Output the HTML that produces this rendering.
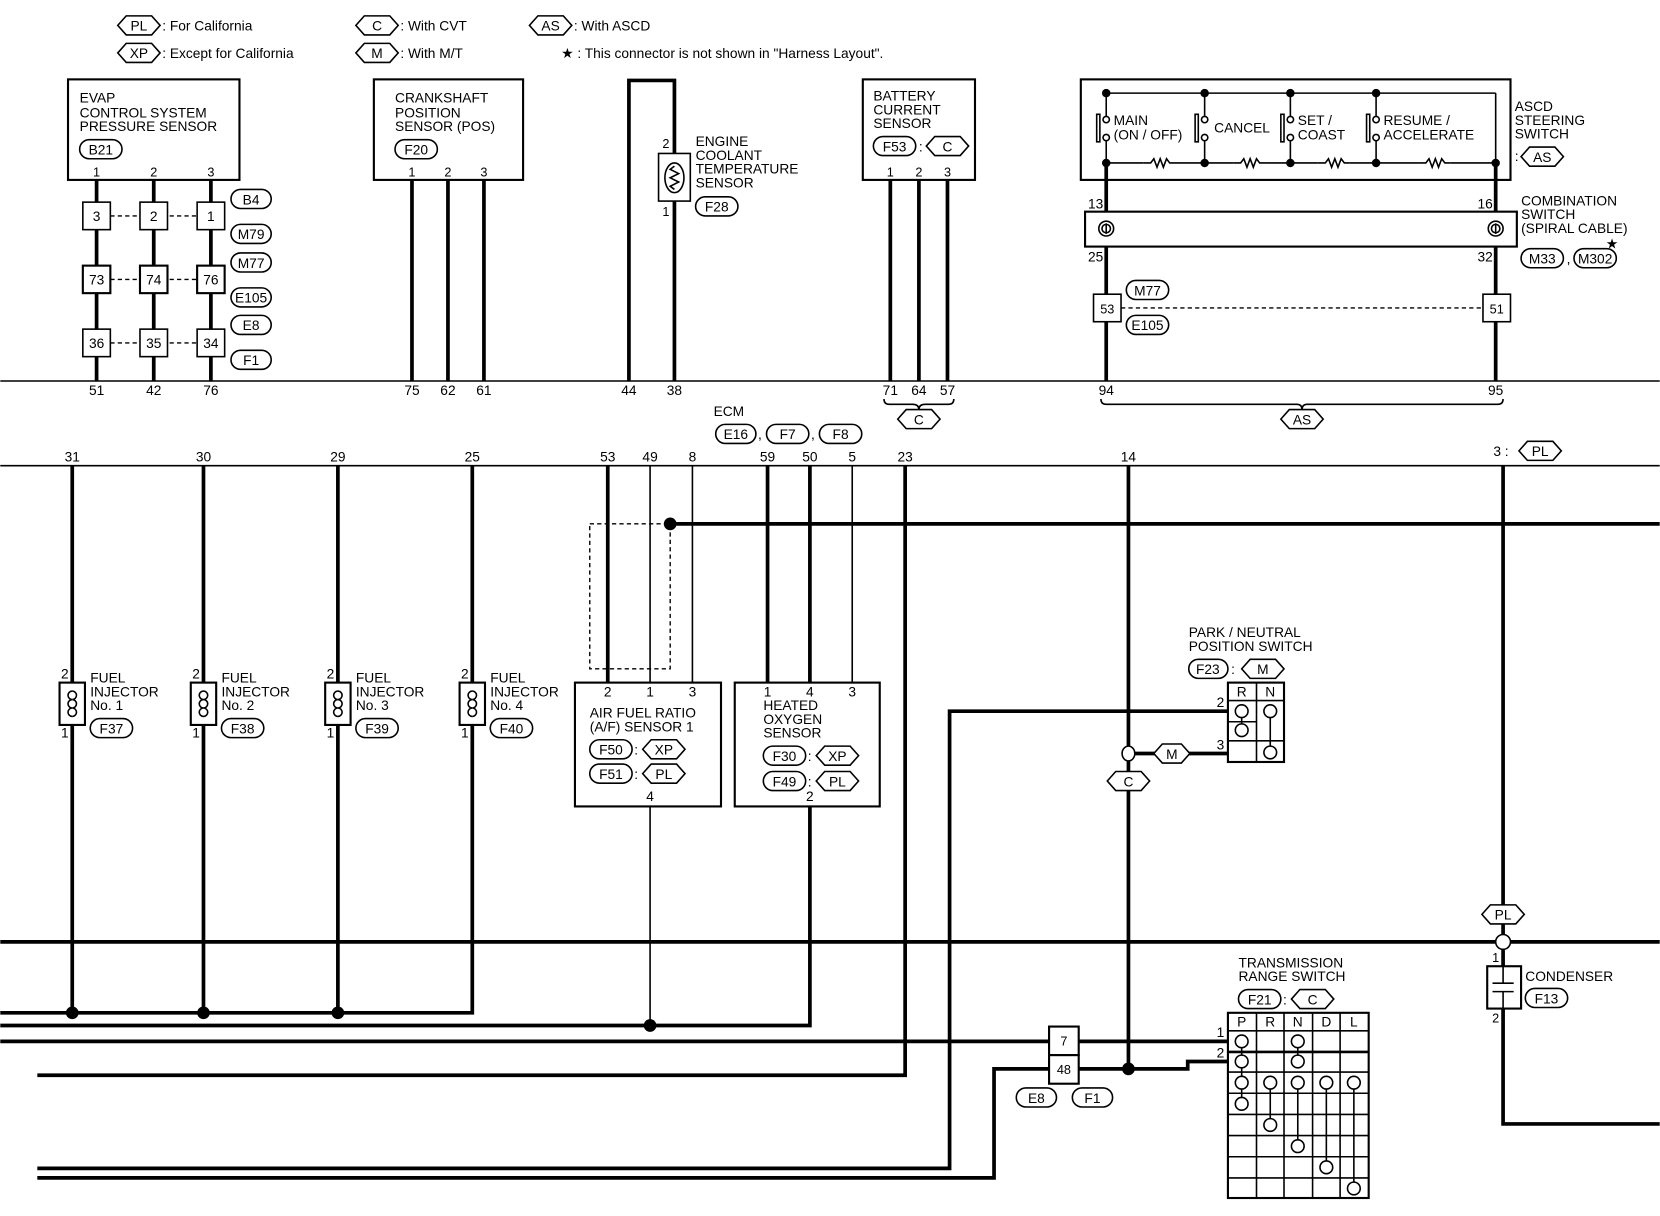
<!DOCTYPE html>
<html><head><meta charset="utf-8"><style>
html,body{margin:0;padding:0;background:#fff}
svg{display:block}
text{font-family:"Liberation Sans",sans-serif;font-size:13px;fill:#000}
.t{stroke:#000;stroke-width:3.5;fill:none}
.n{stroke:#000;stroke-width:1.5;fill:none}
.b{stroke:#000;stroke-width:2;fill:#fff}
.d{stroke:#000;stroke-width:1.3;fill:none;stroke-dasharray:4 3}
.s{font-size:12px}
</style></head><body>
<svg width="1660" height="1216" viewBox="0 0 1568 1149" xmlns="http://www.w3.org/2000/svg">
<defs>
<g id="hx"><polygon points="-20,0 -12,-9 12,-9 20,0 12,9 -12,9" style="fill:#fff" stroke="#000" stroke-width="1.5"/></g>
</defs>

<!-- Legend -->
<use href="#hx" x="131" y="24"/><text x="131" y="29" text-anchor="middle">PL</text><text x="153" y="29">: For California</text>
<use href="#hx" x="131" y="50"/><text x="131" y="55" text-anchor="middle">XP</text><text x="153" y="55">: Except for California</text>
<use href="#hx" x="356" y="24"/><text x="356" y="29" text-anchor="middle">C</text><text x="378" y="29">: With CVT</text>
<use href="#hx" x="356" y="50"/><text x="356" y="55" text-anchor="middle">M</text><text x="378" y="55">: With M/T</text>
<use href="#hx" x="520" y="24"/><text x="520" y="29" text-anchor="middle">AS</text><text x="542" y="29">: With ASCD</text>
<text x="530" y="55">★ : This connector is not shown in "Harness Layout".</text>

<line class="n" x1="0" y1="360" x2="1568" y2="360"/>
<line class="n" x1="0" y1="440" x2="1568" y2="440"/>

<!-- EVAP -->
<rect class="b" x="64" y="75" width="162" height="95"/>
<text x="75" y="97">EVAP</text><text x="75" y="111">CONTROL SYSTEM</text><text x="75" y="124">PRESSURE SENSOR</text>
<rect class="n" x="75" y="132" width="40" height="18" rx="9" style="fill:#fff"/><text x="95" y="146" text-anchor="middle">B21</text>
<text x="91" y="167" text-anchor="middle" class="s">1</text><text x="145" y="167" text-anchor="middle" class="s">2</text><text x="199" y="167" text-anchor="middle" class="s">3</text>
<line class="t" x1="91" y1="170" x2="91" y2="360"/><line class="t" x1="145" y1="170" x2="145" y2="360"/><line class="t" x1="199" y1="170" x2="199" y2="360"/>
<line class="d" x1="104" y1="204" x2="186" y2="204"/><line class="d" x1="104" y1="264" x2="186" y2="264"/><line class="d" x1="104" y1="324" x2="186" y2="324"/>
<g class="s">
<rect class="n" x="78" y="191" width="26" height="26" style="fill:#fff"/><text x="91" y="209" text-anchor="middle">3</text>
<rect class="n" x="132" y="191" width="26" height="26" style="fill:#fff"/><text x="145" y="209" text-anchor="middle">2</text>
<rect class="n" x="186" y="191" width="26" height="26" style="fill:#fff"/><text x="199" y="209" text-anchor="middle">1</text>
<rect class="b" x="78" y="251" width="26" height="26"/><text x="91" y="269" text-anchor="middle">73</text>
<rect class="b" x="132" y="251" width="26" height="26"/><text x="145" y="269" text-anchor="middle">74</text>
<rect class="b" x="186" y="251" width="26" height="26"/><text x="199" y="269" text-anchor="middle">76</text>
<rect class="n" x="78" y="311" width="26" height="26" style="fill:#fff"/><text x="91" y="329" text-anchor="middle">36</text>
<rect class="n" x="132" y="311" width="26" height="26" style="fill:#fff"/><text x="145" y="329" text-anchor="middle">35</text>
<rect class="n" x="186" y="311" width="26" height="26" style="fill:#fff"/><text x="199" y="329" text-anchor="middle">34</text>
</g>
<g>
<rect class="n" x="218" y="179" width="38" height="18" rx="9" style="fill:#fff"/><text x="237" y="193" text-anchor="middle">B4</text>
<rect class="n" x="218" y="212" width="38" height="18" rx="9" style="fill:#fff"/><text x="237" y="226" text-anchor="middle">M79</text>
<rect class="n" x="218" y="239" width="38" height="18" rx="9" style="fill:#fff"/><text x="237" y="253" text-anchor="middle">M77</text>
<rect class="n" x="218" y="272" width="38" height="18" rx="9" style="fill:#fff"/><text x="237" y="286" text-anchor="middle">E105</text>
<rect class="n" x="218" y="298" width="38" height="18" rx="9" style="fill:#fff"/><text x="237" y="312" text-anchor="middle">E8</text>
<rect class="n" x="218" y="331" width="38" height="18" rx="9" style="fill:#fff"/><text x="237" y="345" text-anchor="middle">F1</text>
</g>
<g class="s" text-anchor="middle">
<text x="91" y="373">51</text><text x="145" y="373">42</text><text x="199" y="373">76</text>
<text x="389" y="373">75</text><text x="423" y="373">62</text><text x="457" y="373">61</text>
<text x="594" y="373">44</text><text x="637" y="373">38</text>
<text x="841" y="373">71</text><text x="868" y="373">64</text><text x="895" y="373">57</text>
<text x="1045" y="373">94</text><text x="1413" y="373">95</text>
</g>

<!-- Crankshaft -->
<rect class="b" x="353" y="75" width="141" height="95"/>
<text x="373" y="97">CRANKSHAFT</text><text x="373" y="111">POSITION</text><text x="373" y="124">SENSOR (POS)</text>
<rect class="n" x="373" y="132" width="40" height="18" rx="9" style="fill:#fff"/><text x="393" y="146" text-anchor="middle">F20</text>
<text x="389" y="167" text-anchor="middle" class="s">1</text><text x="423" y="167" text-anchor="middle" class="s">2</text><text x="457" y="167" text-anchor="middle" class="s">3</text>
<line class="t" x1="389" y1="170" x2="389" y2="360"/><line class="t" x1="423" y1="170" x2="423" y2="360"/><line class="t" x1="457" y1="170" x2="457" y2="360"/>

<!-- Coolant -->
<polyline class="t" points="594,360 594,76 637,76 637,145"/>
<line class="t" x1="637" y1="190" x2="637" y2="360"/>
<rect class="n" x="622" y="145" width="30" height="45" style="fill:#fff"/>
<ellipse class="n" cx="637" cy="168" rx="9" ry="14"/>
<polyline class="n" points="637,157 633,160 641,164 633,168 641,172 633,176 637,179"/>
<text x="629" y="140" class="s" text-anchor="middle">2</text><text x="629" y="204" class="s" text-anchor="middle">1</text>
<text x="657" y="138">ENGINE</text><text x="657" y="151">COOLANT</text><text x="657" y="164">TEMPERATURE</text><text x="657" y="177">SENSOR</text>
<rect class="n" x="657" y="186" width="40" height="18" rx="9" style="fill:#fff"/><text x="677" y="200" text-anchor="middle">F28</text>

<!-- Battery -->
<rect class="b" x="815" y="75" width="106" height="95"/>
<text x="825" y="95">BATTERY</text><text x="825" y="108">CURRENT</text><text x="825" y="121">SENSOR</text>
<rect class="n" x="825" y="129" width="40" height="18" rx="9" style="fill:#fff"/><text x="845" y="143" text-anchor="middle">F53</text>
<text x="868" y="143">:</text><use href="#hx" x="895" y="138"/><text x="895" y="143" text-anchor="middle">C</text>
<text x="841" y="167" text-anchor="middle" class="s">1</text><text x="868" y="167" text-anchor="middle" class="s">2</text><text x="895" y="167" text-anchor="middle" class="s">3</text>
<line class="t" x1="841" y1="170" x2="841" y2="360"/><line class="t" x1="868" y1="170" x2="868" y2="360"/><line class="t" x1="895" y1="170" x2="895" y2="360"/>
<path class="n" d="M835,377 Q835,382 840,382 L862,382 Q868,382 868,387 Q868,382 874,382 L896,382 Q901,382 901,377"/>
<use href="#hx" x="868" y="396"/><text x="868" y="401" text-anchor="middle">C</text>

<!-- ASCD -->
<rect class="b" x="1021" y="75" width="406" height="95"/>
<line class="n" x1="1045" y1="88" x2="1413" y2="88"/>
<line class="n" x1="1413" y1="88" x2="1413" y2="154"/>
<line class="n" x1="1045" y1="154" x2="1413" y2="154"/>
<g fill="#000"><circle cx="1045" cy="154" r="4"/><circle cx="1138" cy="154" r="4"/><circle cx="1219" cy="154" r="4"/><circle cx="1300" cy="154" r="4"/><circle cx="1413" cy="154" r="4"/>
<circle cx="1045" cy="88" r="4"/><circle cx="1138" cy="88" r="4"/><circle cx="1219" cy="88" r="4"/><circle cx="1300" cy="88" r="4"/></g>
<g style="fill:#fff">
<rect x="1080" y="150" width="30" height="8"/><rect x="1165" y="150" width="30" height="8"/><rect x="1245" y="150" width="30" height="8"/><rect x="1340" y="150" width="30" height="8"/>
</g>
<polyline class="n" points="1080,154 1087,154 1090,150 1093,158 1096,150 1099,158 1102,150 1105,154 1110,154"/>
<polyline class="n" points="1165,154 1172,154 1175,150 1178,158 1181,150 1184,158 1187,150 1190,154 1195,154"/>
<polyline class="n" points="1245,154 1252,154 1255,150 1258,158 1261,150 1264,158 1267,150 1270,154 1275,154"/>
<polyline class="n" points="1340,154 1347,154 1350,150 1353,158 1356,150 1359,158 1362,150 1365,154 1370,154"/>
<g class="n">
<line x1="1045" y1="88" x2="1045" y2="110"/><circle cx="1045" cy="113" r="3" style="fill:#fff"/><circle cx="1045" cy="130" r="3" style="fill:#fff"/><line x1="1045" y1="133" x2="1045" y2="154"/><rect x="1036" y="108" width="3" height="26"/>
<line x1="1138" y1="88" x2="1138" y2="110"/><circle cx="1138" cy="113" r="3" style="fill:#fff"/><circle cx="1138" cy="130" r="3" style="fill:#fff"/><line x1="1138" y1="133" x2="1138" y2="154"/><rect x="1129" y="108" width="3" height="26"/>
<line x1="1219" y1="88" x2="1219" y2="110"/><circle cx="1219" cy="113" r="3" style="fill:#fff"/><circle cx="1219" cy="130" r="3" style="fill:#fff"/><line x1="1219" y1="133" x2="1219" y2="154"/><rect x="1210" y="108" width="3" height="26"/>
<line x1="1300" y1="88" x2="1300" y2="110"/><circle cx="1300" cy="113" r="3" style="fill:#fff"/><circle cx="1300" cy="130" r="3" style="fill:#fff"/><line x1="1300" y1="133" x2="1300" y2="154"/><rect x="1291" y="108" width="3" height="26"/>
</g>
<text x="1052" y="118">MAIN</text><text x="1052" y="132">(ON / OFF)</text>
<text x="1147" y="125">CANCEL</text>
<text x="1226" y="118">SET /</text><text x="1226" y="132">COAST</text>
<text x="1307" y="118">RESUME /</text><text x="1307" y="132">ACCELERATE</text>
<text x="1431" y="105">ASCD</text><text x="1431" y="118">STEERING</text><text x="1431" y="131">SWITCH</text>
<text x="1431" y="152">:</text><use href="#hx" x="1457" y="148"/><text x="1457" y="153" text-anchor="middle">AS</text>
<line class="t" x1="1045" y1="154" x2="1045" y2="360"/><line class="t" x1="1413" y1="154" x2="1413" y2="360"/>
<rect class="b" x="1025" y="200" width="408" height="33"/>
<circle class="n" cx="1045" cy="216" r="7" style="fill:#fff"/><circle class="n" cx="1045" cy="216" r="4"/><line class="n" x1="1045" y1="211" x2="1045" y2="221"/>
<circle class="n" cx="1413" cy="216" r="7" style="fill:#fff"/><circle class="n" cx="1413" cy="216" r="4"/><line class="n" x1="1413" y1="211" x2="1413" y2="221"/>
<g class="s" text-anchor="middle"><text x="1035" y="197">13</text><text x="1035" y="247">25</text><text x="1403" y="197">16</text><text x="1403" y="247">32</text></g>
<text x="1437" y="194">COMBINATION</text><text x="1437" y="207">SWITCH</text><text x="1437" y="220">(SPIRAL CABLE)</text>
<text x="1517" y="235">★</text>
<rect class="n" x="1437" y="235" width="40" height="18" rx="9" style="fill:#fff"/><text x="1457" y="249" text-anchor="middle">M33</text>
<text x="1480" y="249">,</text>
<rect class="n" x="1487" y="235" width="40" height="18" rx="9" style="fill:#fff"/><text x="1507" y="249" text-anchor="middle">M302</text>
<line class="d" x1="1059" y1="291" x2="1401" y2="291"/>
<rect class="n" x="1033" y="278" width="26" height="26" style="fill:#fff"/><text x="1046" y="296" text-anchor="middle" class="s">53</text>
<rect class="n" x="1401" y="278" width="26" height="26" style="fill:#fff"/><text x="1414" y="296" text-anchor="middle" class="s">51</text>
<rect class="n" x="1064" y="265" width="40" height="18" rx="9" style="fill:#fff"/><text x="1084" y="279" text-anchor="middle">M77</text>
<rect class="n" x="1064" y="298" width="40" height="18" rx="9" style="fill:#fff"/><text x="1084" y="312" text-anchor="middle">E105</text>
<path class="n" d="M1040,377 Q1040,382 1045,382 L1225,382 Q1230,382 1230,387 Q1230,382 1235,382 L1415,382 Q1420,382 1420,377"/>
<use href="#hx" x="1230" y="396"/><text x="1230" y="401" text-anchor="middle">AS</text>

<!-- ECM -->
<text x="674" y="393">ECM</text>
<rect class="n" x="676" y="401" width="38" height="18" rx="9" style="fill:#fff"/><text x="695" y="415" text-anchor="middle">E16</text>
<text x="716" y="415">,</text>
<rect class="n" x="724" y="401" width="40" height="18" rx="9" style="fill:#fff"/><text x="744" y="415" text-anchor="middle">F7</text>
<text x="766" y="415">,</text>
<rect class="n" x="774" y="401" width="40" height="18" rx="9" style="fill:#fff"/><text x="794" y="415" text-anchor="middle">F8</text>
<g class="s" text-anchor="middle">
<text x="68" y="436">31</text><text x="192" y="436">30</text><text x="319" y="436">29</text><text x="446" y="436">25</text>
<text x="574" y="436">53</text><text x="614" y="436">49</text><text x="654" y="436">8</text>
<text x="725" y="436">59</text><text x="765" y="436">50</text><text x="805" y="436">5</text><text x="855" y="436">23</text>
<text x="1066" y="436">14</text><text x="1418" y="431">3 :</text>
</g>
<use href="#hx" x="1455" y="426"/><text x="1455" y="431" text-anchor="middle">PL</text>

<!-- Bus lines -->
<line class="t" x1="633" y1="495" x2="1568" y2="495"/>
<circle cx="633" cy="495" r="6" fill="#000"/>
<line class="t" x1="0" y1="890" x2="1568" y2="890"/>
<polyline class="t" points="0,957 446,957 446,440"/>
<polyline class="t" points="0,969 765,969 765,762"/>
<line class="t" x1="0" y1="984" x2="1160" y2="984"/>
<polyline class="t" points="35,1016 855,1016 855,440"/>
<polyline class="t" points="35,1104 897,1104 897,672 1160,672"/>
<polyline class="t" points="35,1113 939,1113 939,1010 991,1010"/>
<polyline class="t" points="1019,1010 1122,1010 1122,1003 1160,1003"/>

<!-- Injectors -->
<line class="t" x1="68" y1="440" x2="68" y2="957"/>
<line class="t" x1="192" y1="440" x2="192" y2="957"/>
<line class="t" x1="319" y1="440" x2="319" y2="957"/>
<g fill="#000"><circle cx="68" cy="957" r="6"/><circle cx="192" cy="957" r="6"/><circle cx="319" cy="957" r="6"/><circle cx="614" cy="969" r="6"/><circle cx="1066" cy="1010" r="6"/></g>
<g id="inj">
<rect class="b" x="56" y="645" width="24" height="40"/>
<path class="n" d="M68,653 a4,4 0 1 0 0,8 a4,4 0 1 0 0,8 a4,4 0 1 0 0,8"/>
<path class="n" d="M68,653 a4,4 0 1 1 0,8 a4,4 0 1 1 0,8 a4,4 0 1 1 0,8"/>
</g>
<use href="#inj" x="124"/><use href="#inj" x="251"/><use href="#inj" x="378"/>
<g class="s" text-anchor="middle">
<text x="61" y="641">2</text><text x="61" y="697">1</text><text x="185" y="641">2</text><text x="185" y="697">1</text>
<text x="312" y="641">2</text><text x="312" y="697">1</text><text x="439" y="641">2</text><text x="439" y="697">1</text>
</g>
<text x="85" y="645">FUEL</text><text x="85" y="658">INJECTOR</text><text x="85" y="671">No. 1</text>
<rect class="n" x="85" y="679" width="40" height="18" rx="9" style="fill:#fff"/><text x="105" y="693" text-anchor="middle">F37</text>
<text x="209" y="645">FUEL</text><text x="209" y="658">INJECTOR</text><text x="209" y="671">No. 2</text>
<rect class="n" x="209" y="679" width="40" height="18" rx="9" style="fill:#fff"/><text x="229" y="693" text-anchor="middle">F38</text>
<text x="336" y="645">FUEL</text><text x="336" y="658">INJECTOR</text><text x="336" y="671">No. 3</text>
<rect class="n" x="336" y="679" width="40" height="18" rx="9" style="fill:#fff"/><text x="356" y="693" text-anchor="middle">F39</text>
<text x="463" y="645">FUEL</text><text x="463" y="658">INJECTOR</text><text x="463" y="671">No. 4</text>
<rect class="n" x="463" y="679" width="40" height="18" rx="9" style="fill:#fff"/><text x="483" y="693" text-anchor="middle">F40</text>

<!-- A/F sensor -->
<rect class="d" x="557" y="495" width="76" height="137"/>
<line class="t" x1="574" y1="440" x2="574" y2="645"/>
<line class="n" x1="614" y1="440" x2="614" y2="645"/>
<line class="n" x1="654" y1="440" x2="654" y2="645"/>
<line class="n" x1="614" y1="762" x2="614" y2="969"/>
<rect class="b" x="543" y="645" width="138" height="117"/>
<g class="s" text-anchor="middle"><text x="574" y="658">2</text><text x="614" y="658">1</text><text x="654" y="658">3</text><text x="614" y="757">4</text></g>
<text x="557" y="678">AIR FUEL RATIO</text><text x="557" y="691">(A/F) SENSOR 1</text>
<rect class="n" x="557" y="699" width="40" height="18" rx="9" style="fill:#fff"/><text x="577" y="713" text-anchor="middle">F50</text>
<text x="599" y="713">:</text><use href="#hx" x="627" y="708"/><text x="627" y="713" text-anchor="middle">XP</text>
<rect class="n" x="557" y="722" width="40" height="18" rx="9" style="fill:#fff"/><text x="577" y="736" text-anchor="middle">F51</text>
<text x="599" y="736">:</text><use href="#hx" x="627" y="731"/><text x="627" y="736" text-anchor="middle">PL</text>

<!-- HO2S -->
<line class="t" x1="725" y1="440" x2="725" y2="645"/>
<line class="t" x1="765" y1="440" x2="765" y2="645"/>
<line class="n" x1="805" y1="440" x2="805" y2="645"/>
<rect class="b" x="694" y="645" width="137" height="117"/>
<g class="s" text-anchor="middle"><text x="725" y="658">1</text><text x="765" y="658">4</text><text x="805" y="658">3</text><text x="765" y="757">2</text></g>
<text x="721" y="671">HEATED</text><text x="721" y="684">OXYGEN</text><text x="721" y="697">SENSOR</text>
<rect class="n" x="721" y="705" width="40" height="18" rx="9" style="fill:#fff"/><text x="741" y="719" text-anchor="middle">F30</text>
<text x="763" y="719">:</text><use href="#hx" x="791" y="714"/><text x="791" y="719" text-anchor="middle">XP</text>
<rect class="n" x="721" y="729" width="40" height="18" rx="9" style="fill:#fff"/><text x="741" y="743" text-anchor="middle">F49</text>
<text x="763" y="743">:</text><use href="#hx" x="791" y="738"/><text x="791" y="743" text-anchor="middle">PL</text>

<!-- 14 wire & park switch -->
<line class="t" x1="1066" y1="440" x2="1066" y2="1010"/>
<line class="t" x1="1066" y1="712" x2="1160" y2="712"/>
<ellipse cx="1066" cy="712" rx="6" ry="7" style="fill:#fff" stroke="#000" stroke-width="1.5"/>
<polygon points="1090,712 1098,703 1116,703 1124,712 1116,721 1098,721" style="fill:#fff" stroke="#000" stroke-width="1.5"/><text x="1107" y="717" text-anchor="middle">M</text>
<use href="#hx" x="1066" y="738"/><text x="1066" y="743" text-anchor="middle">C</text>
<text x="1123" y="602">PARK / NEUTRAL</text><text x="1123" y="615">POSITION SWITCH</text>
<rect class="n" x="1123" y="623" width="37" height="18" rx="9" style="fill:#fff"/><text x="1141" y="637" text-anchor="middle">F23</text>
<text x="1163" y="637">:</text><use href="#hx" x="1193" y="632"/><text x="1193" y="637" text-anchor="middle">M</text>
<g class="n">
<rect x="1160" y="645" width="53" height="75" style="fill:#fff" stroke-width="2"/>
<line x1="1187" y1="645" x2="1187" y2="720"/>
<line x1="1160" y1="662" x2="1213" y2="662"/><line x1="1160" y1="682" x2="1187" y2="682"/><line x1="1160" y1="700" x2="1213" y2="700"/>
<line x1="1173" y1="672" x2="1173" y2="690"/><line x1="1200" y1="672" x2="1200" y2="711"/>
<circle cx="1173" cy="672" r="6" style="fill:#fff"/><circle cx="1173" cy="690" r="6" style="fill:#fff"/><circle cx="1200" cy="672" r="6" style="fill:#fff"/><circle cx="1200" cy="711" r="6" style="fill:#fff"/>
</g>
<g class="s" text-anchor="middle"><text x="1173" y="658">R</text><text x="1200" y="658">N</text><text x="1153" y="668">2</text><text x="1153" y="708">3</text></g>

<!-- connector 7/48 -->
<rect class="b" x="991" y="970" width="28" height="27"/><text x="1005" y="988" text-anchor="middle" class="s">7</text>
<rect class="b" x="991" y="997" width="28" height="27"/><text x="1005" y="1015" text-anchor="middle" class="s">48</text>
<rect class="n" x="960" y="1028" width="38" height="18" rx="9" style="fill:#fff"/><text x="979" y="1042" text-anchor="middle">E8</text>
<rect class="n" x="1013" y="1028" width="38" height="18" rx="9" style="fill:#fff"/><text x="1032" y="1042" text-anchor="middle">F1</text>

<!-- PL / condenser -->
<line class="t" x1="1420" y1="440" x2="1420" y2="913"/>
<polyline class="t" points="1420,953 1420,1062 1568,1062"/>
<use href="#hx" x="1420" y="864"/><text x="1420" y="869" text-anchor="middle">PL</text>
<circle cx="1420" cy="890" r="7" style="fill:#fff" stroke="#000" stroke-width="1.5"/>
<rect class="b" x="1405" y="913" width="32" height="40"/>
<line class="n" x1="1420" y1="913" x2="1420" y2="929"/><line class="n" x1="1410" y1="929" x2="1430" y2="929"/>
<line class="n" x1="1410" y1="937" x2="1430" y2="937"/><line class="n" x1="1420" y1="937" x2="1420" y2="953"/>
<text x="1413" y="909" class="s" text-anchor="middle">1</text><text x="1413" y="966" class="s" text-anchor="middle">2</text>
<text x="1441" y="927">CONDENSER</text>
<rect class="n" x="1441" y="934" width="40" height="18" rx="9" style="fill:#fff"/><text x="1461" y="948" text-anchor="middle">F13</text>

<!-- Transmission range switch -->
<text x="1170" y="914">TRANSMISSION</text><text x="1170" y="927">RANGE SWITCH</text>
<rect class="n" x="1170" y="935" width="40" height="18" rx="9" style="fill:#fff"/><text x="1190" y="949" text-anchor="middle">F21</text>
<text x="1212" y="949">:</text><use href="#hx" x="1240" y="944"/><text x="1240" y="949" text-anchor="middle">C</text>
<g class="n">
<rect x="1160" y="957" width="133" height="175" style="fill:#fff" stroke-width="2"/>
<line x1="1187" y1="957" x2="1187" y2="1132"/><line x1="1213" y1="957" x2="1213" y2="1132"/><line x1="1240" y1="957" x2="1240" y2="1132"/><line x1="1266" y1="957" x2="1266" y2="1132"/>
<line x1="1160" y1="974" x2="1293" y2="974"/><line x1="1160" y1="994" x2="1293" y2="994" stroke-width="2.5"/><line x1="1160" y1="1013" x2="1293" y2="1013"/>
<line x1="1160" y1="1033" x2="1293" y2="1033"/><line x1="1160" y1="1053" x2="1293" y2="1053"/><line x1="1160" y1="1073" x2="1293" y2="1073"/>
<line x1="1160" y1="1093" x2="1293" y2="1093"/><line x1="1160" y1="1113" x2="1293" y2="1113"/>
<line x1="1173" y1="984" x2="1173" y2="1043"/><line x1="1226" y1="984" x2="1226" y2="1003"/>
<line x1="1200" y1="1023" x2="1200" y2="1063"/><line x1="1226" y1="1023" x2="1226" y2="1083"/><line x1="1253" y1="1023" x2="1253" y2="1103"/><line x1="1279" y1="1023" x2="1279" y2="1123"/>
<g style="fill:#fff">
<circle cx="1173" cy="984" r="6"/><circle cx="1173" cy="1003" r="6"/><circle cx="1173" cy="1023" r="6"/><circle cx="1173" cy="1043" r="6"/>
<circle cx="1226" cy="984" r="6"/><circle cx="1226" cy="1003" r="6"/>
<circle cx="1200" cy="1023" r="6"/><circle cx="1226" cy="1023" r="6"/><circle cx="1253" cy="1023" r="6"/><circle cx="1279" cy="1023" r="6"/>
<circle cx="1200" cy="1063" r="6"/><circle cx="1226" cy="1083" r="6"/><circle cx="1253" cy="1103" r="6"/><circle cx="1279" cy="1123" r="6"/>
</g>
</g>
<g class="s" text-anchor="middle"><text x="1173" y="970">P</text><text x="1200" y="970">R</text><text x="1226" y="970">N</text><text x="1253" y="970">D</text><text x="1279" y="970">L</text>
<text x="1153" y="980">1</text><text x="1153" y="999">2</text></g>
</svg>
</body></html>
